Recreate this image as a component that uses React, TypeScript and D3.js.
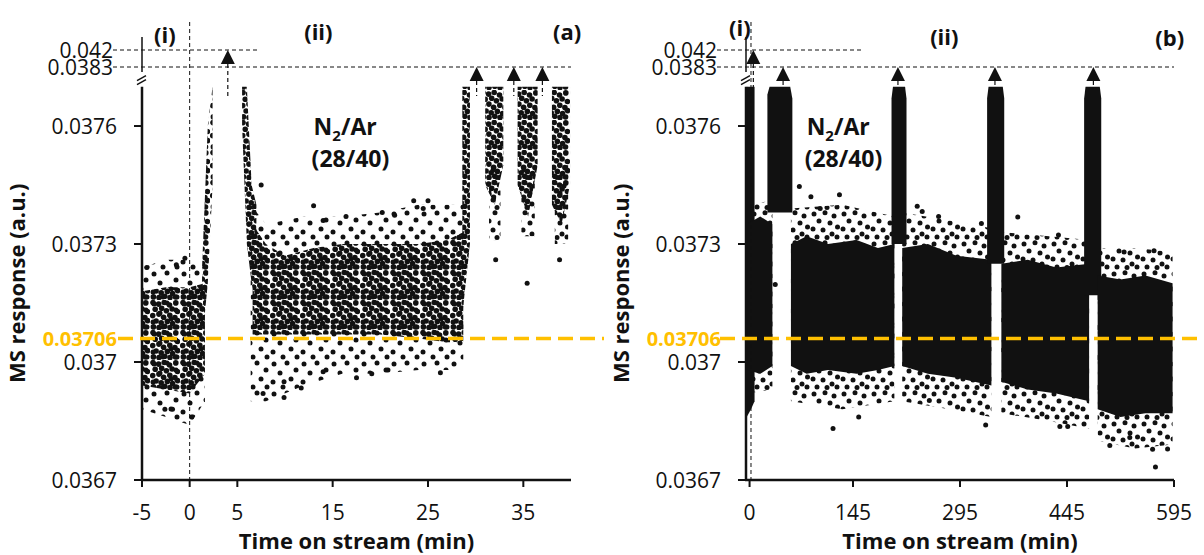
import React from "react";
import * as d3 from "d3";

type Row = [number, number, number]; // [time, low, high]
type Pt = [number, number]; // [time, value]

// ---------- shared axis data ----------
const yTicks = [0.0367, 0.037, 0.0373, 0.0376];
const yBreakTicks = [0.0383, 0.042];
const baseline = 0.03706;
const capValue = 0.0377;

// ---------- panel (a) ----------
const aTicks = [-5, 0, 5, 15, 25, 35];
const aArrows: Pt[] = [[4.0, 0.042], [30.1, 0.0383], [34.0, 0.0383], [37.0, 0.0383]];
const aPreCore: Row[] = [[-5, 0.03694, 0.03718], [-2.5, 0.03693, 0.03719], [0, 0.03692, 0.03719], [1.6, 0.03697, 0.0372]];
const aPreFringe: Row[] = [[-5, 0.03688, 0.03724], [-2.5, 0.03686, 0.03726], [0, 0.03684, 0.03726], [1.6, 0.0369, 0.03725]];
const aRise: Row[] = [[1.3, 0.03705, 0.03724], [1.9, 0.0372, 0.0376], [2.4, 0.03745, 0.0377]];
const aFall: Row[] = [[5.5, 0.0376, 0.0377], [6.0, 0.0373, 0.0377], [6.5, 0.0372, 0.03745], [7.0, 0.03715, 0.0374]];
const aMainCore: Row[] = [[6.6, 0.03707, 0.03735], [8, 0.03707, 0.0373], [10, 0.03707, 0.03727], [13, 0.03707, 0.03729], [16, 0.03707, 0.0373], [20, 0.03707, 0.0373], [24, 0.03706, 0.0373], [27, 0.03705, 0.03731], [28.7, 0.03705, 0.03733]];
const aMainFringe: Row[] = [[6.4, 0.0369, 0.0374], [8, 0.0369, 0.03735], [12, 0.03694, 0.03737], [16, 0.03697, 0.03737], [20, 0.03697, 0.03738], [24, 0.03698, 0.0374], [28.7, 0.03698, 0.0374]];
const aEdge: Row[] = [[28.6, 0.03712, 0.0377], [29.4, 0.0373, 0.0377]];
const aCol2: Row[] = [[31.0, 0.03745, 0.0377], [32.0, 0.0374, 0.0377], [32.9, 0.0375, 0.0377]];
const aCol3: Row[] = [[34.4, 0.03745, 0.0377], [35.5, 0.03737, 0.0377], [36.5, 0.0375, 0.0377]];
const aCol4: Row[] = [[38.0, 0.0374, 0.0377], [39.0, 0.03735, 0.0377], [39.9, 0.03745, 0.0377]];
const aCol2Fringe: Row[] = [[31.4, 0.03731, 0.0375], [32.6, 0.03731, 0.0375]];
const aCol3Fringe: Row[] = [[34.8, 0.03732, 0.0375], [36.2, 0.03732, 0.0375]];
const aCol4Fringe: Row[] = [[38.3, 0.0373, 0.0375], [39.7, 0.0373, 0.0375]];
const aOutliers: Pt[] = [
  [7.7, 0.03692], [9.9, 0.03695], [9.9, 0.03691], [11.7, 0.036934], [14, 0.036975], [17.5, 0.03696],
  [19.1, 0.03697], [20.8, 0.03698], [26.3, 0.036973], [13, 0.037397], [7.5, 0.03745], [20.2, 0.03738],
  [23.5, 0.03741], [25, 0.03741], [14, 0.03736], [16.4, 0.03737], [21.5, 0.037373], [24.5, 0.03739],
  [-2.6, 0.03688], [-1.8, 0.03688], [0.2, 0.03686], [-1.4, 0.037247], [-0.5, 0.037264], [-4.5, 0.03724],
  [32.1, 0.03726], [35.4, 0.0372], [38.8, 0.03726],
];

// ---------- panel (b) ----------
const bTicks = [0, 145, 295, 445, 595];
const bArrows: Pt[] = [[5.3, 0.042], [47, 0.0383], [208, 0.0383], [344, 0.0383], [482, 0.0383]];
const bStart: Row[] = [[-4, 0.03686, 0.0377], [2, 0.03688, 0.0377], [7, 0.0369, 0.0377]];
const bBand0: Row[] = [[-4, 0.03698, 0.03735], [15, 0.03697, 0.03737], [32, 0.03699, 0.03735]];
const bBand0Fringe: Row[] = [[-4, 0.03692, 0.0374], [32, 0.03693, 0.03741]];
const bPeak1: Row[] = [[25, 0.03738, 0.03768], [28, 0.03738, 0.0377], [57, 0.03738, 0.0377], [60, 0.03738, 0.03767]];
const bBandA: Row[] = [[58, 0.03699, 0.0373], [80, 0.03697, 0.03732], [110, 0.03698, 0.0373], [150, 0.03697, 0.03731], [180, 0.03698, 0.03729], [203, 0.03699, 0.0373]];
const bBandAFringe: Row[] = [[58, 0.0369, 0.03739], [130, 0.03688, 0.0374], [203, 0.0369, 0.03737]];
const bPeak2: Row[] = [[199, 0.0373, 0.03767], [201, 0.0373, 0.0377], [218, 0.0373, 0.0377], [220, 0.0373, 0.03767]];
const bBandB: Row[] = [[214, 0.03699, 0.03729], [250, 0.03697, 0.0373], [290, 0.03696, 0.03727], [339, 0.03694, 0.03726]];
const bBandBFringe: Row[] = [[214, 0.0369, 0.03738], [280, 0.03688, 0.03736], [339, 0.03686, 0.03734]];
const bPeak3: Row[] = [[333, 0.03725, 0.03767], [335, 0.03725, 0.0377], [355, 0.03725, 0.0377], [357, 0.03725, 0.03767]];
const bBandC: Row[] = [[353, 0.03695, 0.03725], [390, 0.03693, 0.03726], [430, 0.03692, 0.03724], [476, 0.0369, 0.03725]];
const bBandCFringe: Row[] = [[353, 0.03687, 0.03733], [420, 0.03685, 0.03732], [476, 0.03683, 0.03731]];
const bPeak4: Row[] = [[469, 0.03717, 0.03767], [471, 0.03717, 0.0377], [491, 0.03717, 0.0377], [493, 0.03717, 0.03767]];
const bBandD: Row[] = [[488, 0.03688, 0.03722], [520, 0.03686, 0.03721], [555, 0.03687, 0.03722], [593, 0.03687, 0.0372]];
const bBandDFringe: Row[] = [[488, 0.0368, 0.03729], [540, 0.03678, 0.03729], [593, 0.03679, 0.03728]];
const bOutliers: Pt[] = [
  [69.8, 0.037446], [86, 0.03742], [99, 0.03739], [126, 0.037425], [36, 0.037197],
  [117, 0.036831], [153, 0.03686], [235, 0.037396], [242, 0.037383], [265, 0.03737], [325, 0.037352],
  [331, 0.03684], [252, 0.036902], [376, 0.037369], [433, 0.037323], [435, 0.036836], [446, 0.036836],
  [525, 0.03728], [567, 0.037283], [505, 0.036788], [565, 0.036778], [533, 0.036808], [569, 0.036733], [586, 0.036779],
];

// ---------- scales ----------
const yMain = d3.scaleLinear().domain([0.0367, 0.0377]).range([480, 86.7]);
const yUp = d3.scaleLinear().domain([0.0383, 0.042]).range([67, 50]);
const xA = d3.scaleLinear().domain([-5, 40]).range([142, 571]);
const xB = d3.scaleLinear().domain([-5, 595]).range([746, 1174]);

const FONT = "'Open Sans', sans-serif";
const INK = "#111";
const GOLD = "#FFC000";

// marker textures (style only)
const denseDots: Pt[] = [
  [3.0, 2.6], [8.6, 4.1], [14.2, 2.5], [19.5, 5.0], [25.8, 2.9],
  [5.2, 9.3], [11.7, 8.2], [16.4, 10.8], [22.1, 9.0], [27.4, 11.5],
  [2.7, 15.6], [8.9, 14.1], [13.6, 17.2], [19.8, 15.3], [24.9, 17.6],
  [6.1, 21.0], [11.2, 22.8], [17.3, 21.4], [22.6, 23.5], [27.5, 20.6],
  [3.4, 26.9], [9.0, 27.5], [14.8, 26.3], [20.0, 27.6], [25.5, 27.0],
];
const midDots: Pt[] = [[4, 4], [15, 2.8], [24, 6], [9, 11], [20, 13], [27.5, 17], [3, 19], [13, 20], [22, 24], [7, 27], [17, 27.5], [27, 27]];
const lightDots: Pt[] = [[4, 4], [17, 3], [26, 10], [10, 13], [21, 19], [3, 22], [13, 27], [27, 27]];

type PanelProps = {
  x: d3.ScaleLinear<number, number>;
  ticks: number[];
  vline: number;
  line042End: number;
  orangeStart: number;
  orangeEnd: number;
  solid: Row[][];
  dense: Row[][];
  medium: Row[][];
  light: Row[][];
  outliers: Pt[];
  arrows: Pt[];
  stemEnd: number;
  tags: [string, number, number][];
  note: number;
};

function Panel(p: PanelProps) {
  const { x } = p;
  const area = d3
    .area<Row>()
    .x((d) => x(d[0]))
    .y0((d) => yMain(d[1]))
    .y1((d) => yMain(d[2]));
  const [ax, axEnd] = x.range();
  const y0 = yMain.range()[0];
  const yTop = yMain(capValue);
  const labelX = ax - 25;
  return (
    <g>
      {p.light.map((r, i) => (
        <path key={"l" + i} d={area(r) || ""} fill="url(#light)" />
      ))}
      {p.medium.map((r, i) => (
        <path key={"m" + i} d={area(r) || ""} fill="url(#mid)" />
      ))}
      {p.dense.map((r, i) => (
        <path key={"d" + i} d={area(r) || ""} fill="url(#dense)" />
      ))}
      {p.solid.map((r, i) => (
        <path key={"f" + i} d={area(r) || ""} fill={INK} />
      ))}
      {p.outliers.map((d, i) => (
        <circle key={"o" + i} cx={x(d[0])} cy={yMain(d[1])} r={2.5} fill={INK} />
      ))}

      <line x1={x(p.vline)} x2={x(p.vline)} y1={22} y2={y0} stroke={INK} strokeWidth={1} strokeDasharray="4 3" />

      <line x1={ax - 29} x2={x(p.line042End)} y1={yUp(0.042)} y2={yUp(0.042)} stroke={INK} strokeWidth={1} strokeDasharray="4 3" />
      <line x1={ax - 29} x2={axEnd} y1={yUp(0.0383)} y2={yUp(0.0383)} stroke={INK} strokeWidth={1} strokeDasharray="4 3" />

      <line x1={ax} x2={ax} y1={y0} y2={yTop} stroke={INK} strokeWidth={2.5} />
      <line x1={ax} x2={ax} y1={yUp(0.0383) + 5} y2={yUp(0.042) - 13} stroke={INK} strokeWidth={1.5} />
      <line x1={ax - 5} x2={ax + 4} y1={yTop - 2} y2={yTop - 7} stroke={INK} strokeWidth={1.5} />
      <line x1={ax - 5} x2={ax + 4} y1={yTop - 6} y2={yTop - 11} stroke={INK} strokeWidth={1.5} />
      <line x1={ax - 1} x2={axEnd} y1={y0} y2={y0} stroke={INK} strokeWidth={2.5} />

      {yTicks.map((t) => (
        <g key={"yt" + t}>
          <line x1={ax - 8} x2={ax} y1={yMain(t)} y2={yMain(t)} stroke={INK} strokeWidth={2} />
          <text x={labelX} y={yMain(t)} dy="0.36em" textAnchor="end" fontFamily={FONT} fontSize={21} fill={INK}>
            {String(t)}
          </text>
        </g>
      ))}
      {yBreakTicks.map((t) => (
        <text key={"yb" + t} x={labelX - 4} y={yUp(t)} dy="0.36em" textAnchor="end" fontFamily={FONT} fontSize={21} fill={INK}>
          {String(t)}
        </text>
      ))}
      {p.ticks.map((t) => (
        <g key={"xt" + t}>
          <line x1={x(t)} x2={x(t)} y1={y0} y2={y0 + 7} stroke={INK} strokeWidth={2} />
          <text x={x(t)} y={y0 + 40} textAnchor="middle" fontFamily={FONT} fontSize={21} fill={INK}>
            {String(t)}
          </text>
        </g>
      ))}

      <line x1={p.orangeStart} x2={p.orangeEnd} y1={yMain(baseline)} y2={yMain(baseline)} stroke={GOLD} strokeWidth={3.5} strokeDasharray="15 7" />
      <text x={labelX} y={yMain(baseline)} dy="0.36em" textAnchor="end" fontFamily={FONT} fontSize={20} fontWeight={700} fill={GOLD}>
        {String(baseline)}
      </text>

      {p.arrows.map((a, i) => {
        const tip = yUp(a[1]);
        const cx = x(a[0]);
        return (
          <g key={"ar" + i}>
            <line x1={cx} x2={cx} y1={tip + 14} y2={p.stemEnd} stroke={INK} strokeWidth={1.2} strokeDasharray="4 3" />
            <path d={`M${cx},${tip}L${cx + 7},${tip + 14}L${cx - 7},${tip + 14}Z`} fill={INK} />
          </g>
        );
      })}

      {p.tags.map(([s, t, y]) => (
        <text key={s} x={x(t)} y={y} dy="0.36em" textAnchor="middle" fontFamily={FONT} fontSize={22} fontWeight={700} fill={INK}>
          {s}
        </text>
      ))}
      <text x={x(p.note)} y={127} dy="0.36em" fontFamily={FONT} fontSize={23} fontWeight={700} fill={INK}>
        N<tspan fontSize={15} dy={6}>2</tspan>
        <tspan dy={-6}>/Ar</tspan>
      </text>
      <text x={x(p.note) - 2} y={159} dy="0.36em" fontFamily={FONT} fontSize={23} fontWeight={700} fill={INK}>
        (28/40)
      </text>

      <text x={(ax + axEnd) / 2} y={549} textAnchor="middle" fontFamily={FONT} fontSize={22} fontWeight={700} fill={INK}>
        Time on stream (min)
      </text>
      <text
        transform={`translate(${ax - 117},${(y0 + yTop) / 2}) rotate(-90)`}
        textAnchor="middle"
        fontFamily={FONT}
        fontSize={22}
        fontWeight={700}
        fill={INK}
      >
        MS response (a.u.)
      </text>
    </g>
  );
}

function DotPattern({ id, size, dots, r }: { id: string; size: number; dots: Pt[]; r: number }) {
  return (
    <pattern id={id} patternUnits="userSpaceOnUse" width={size} height={size}>
      {dots.map((d, i) => (
        <circle key={i} cx={d[0]} cy={d[1]} r={r} fill={INK} />
      ))}
    </pattern>
  );
}

export default function App() {
  return (
    <svg width={1204} height={555} style={{ position: "absolute", left: 0, top: 0, background: "#fff" }}>
      <defs>
        <DotPattern id="dense" size={30} dots={denseDots} r={2.8} />
        <DotPattern id="mid" size={30} dots={midDots} r={2.5} />
        <DotPattern id="light" size={30} dots={lightDots} r={2.5} />
      </defs>
      <rect width={1204} height={555} fill="#fff" />
      <Panel
        x={xA}
        ticks={aTicks}
        vline={0}
        line042End={7.3}
        orangeStart={118}
        orangeEnd={604}
        solid={[]}
        dense={[aPreCore, aRise, aFall, aMainCore, aEdge, aCol2, aCol3, aCol4]}
        medium={[aCol2Fringe, aCol3Fringe, aCol4Fringe]}
        light={[aPreFringe, aMainFringe]}
        outliers={aOutliers}
        arrows={aArrows}
        stemEnd={96}
        tags={[["(i)", -2.6, 35], ["(ii)", 13.5, 32], ["(a)", 39.6, 32]]}
        note={13}
      />
      <Panel
        x={xB}
        ticks={bTicks}
        vline={2}
        line042End={160}
        orangeStart={720}
        orangeEnd={1204}
        solid={[bStart, bBand0, bPeak1, bBandA, bPeak2, bBandB, bPeak3, bBandC, bPeak4, bBandD]}
        dense={[]}
        medium={[bBand0Fringe, bBandAFringe, bBandBFringe, bBandCFringe, bBandDFringe]}
        light={[]}
        outliers={bOutliers}
        arrows={bArrows}
        stemEnd={90}
        tags={[["(i)", -13.6, 28], ["(ii)", 273, 37], ["(b)", 589, 38]]}
        note={80}
      />
    </svg>
  );
}
